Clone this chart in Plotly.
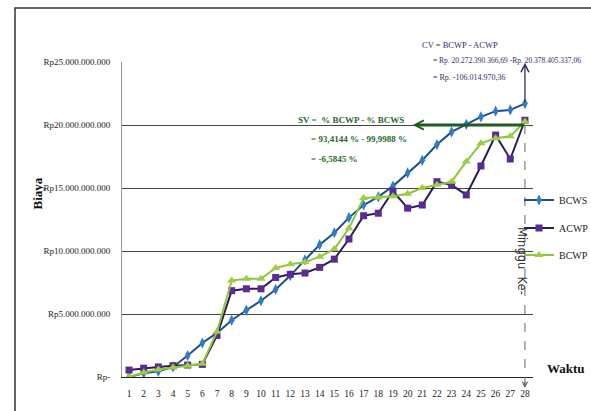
import plotly.graph_objects as go

weeks = list(range(1, 29))
bcws_bn = [0.0, 0.3, 0.45, 0.8, 1.7, 2.7, 3.5, 4.5, 5.3, 6.05, 6.95, 8.05, 9.3, 10.5,
           11.45, 12.65, 13.65, 14.3, 15.15, 16.2, 17.2, 18.45, 19.45, 20.05, 20.65,
           21.1, 21.2, 21.7]
acwp_bn = [0.55, 0.7, 0.8, 0.9, 0.95, 1.0, 3.3, 6.85, 7.0, 7.0, 7.9, 8.15, 8.25, 8.7,
           9.35, 10.95, 12.8, 13.0, 14.75, 13.4, 13.65, 15.5, 15.25, 14.45, 16.75,
           19.2, 17.3, 20.378]
bcwp_bn = [0.0, 0.35, 0.6, 0.75, 0.9, 1.05, 3.6, 7.65, 7.8, 7.8, 8.65, 8.95, 9.1, 9.55,
           10.15, 11.8, 14.2, 14.25, 14.35, 14.55, 15.0, 15.25, 15.5, 17.1, 18.55,
           18.95, 19.1, 20.272]
ytick_vals = [0, 5e9, 10e9, 15e9, 20e9, 25e9]
ytick_text = ["Rp-", "Rp5.000.000.000", "Rp10.000.000.000", "Rp15.000.000.000",
              "Rp20.000.000.000", "Rp25.000.000.000"]

B = 1e9
SERIF = "Liberation Serif, Times New Roman, serif"

fig = go.Figure()
fig.add_trace(go.Scatter(
    x=weeks, y=[v * B for v in bcws_bn], name="BCWS", mode="lines+markers",
    line=dict(color="#1b4f8f", width=2),
    marker=dict(symbol="diamond-tall", size=8, color="#2f7bc8",
                line=dict(width=0)), legend="legend"))
fig.add_trace(go.Scatter(
    x=weeks, y=[v * B for v in acwp_bn], name="ACWP", mode="lines+markers",
    line=dict(color="#2a1d55", width=2),
    marker=dict(symbol="square", size=7, color="#5a2a96",
                line=dict(width=0)), legend="legend2"))
fig.add_trace(go.Scatter(
    x=weeks, y=[v * B for v in bcwp_bn], name="BCWP", mode="lines+markers",
    line=dict(color="#8cc63e", width=2),
    marker=dict(symbol="triangle-up", size=8, color="#9ccf3f",
                line=dict(width=0)), legend="legend3"))

def px_x(px):
    return (px - 122) / 411

def px_y(py):
    return (377 - py) / 315

leg_common = dict(bgcolor="rgba(0,0,0,0)", font=dict(family=SERIF, size=10, color="#222"),
                  xanchor="left", yanchor="middle", borderwidth=0)

CVC = "#3a2a6a"
SVC = "#2a6a2a"

annotations = [
    dict(text="<b>Biaya</b>", x=px_x(28), y=px_y(194), xref="paper", yref="paper",
         showarrow=False, textangle=-90, font=dict(family=SERIF, size=13, color="#111")),
    dict(text="<b>Waktu</b>", x=px_x(545), y=px_y(378), xref="paper", yref="paper",
         xanchor="left", showarrow=False, font=dict(family=SERIF, size=13, color="#111")),
    dict(text="Minggu  Ke-", x=px_x(531), y=px_y(261), xref="paper", yref="paper",
         showarrow=False, textangle=90, font=dict(family="DejaVu Sans", size=11.5, color="#333")),
    dict(text="CV = BCWP - ACWP", x=px_x(420), y=px_y(38), xref="paper", yref="paper",
         xanchor="left", showarrow=False, font=dict(family=SERIF, size=8.5, color=CVC)),
    dict(text="= Rp. 20.272.390.366,69 -Rp. 20.378.405.337,06", x=px_x(431), y=px_y(54),
         xref="paper", yref="paper", xanchor="left", showarrow=False,
         font=dict(family=SERIF, size=7.5, color=CVC)),
    dict(text="= Rp. -106.014.970,36", x=px_x(431), y=px_y(71), xref="paper", yref="paper",
         xanchor="left", showarrow=False, font=dict(family=SERIF, size=8, color=CVC)),
    dict(text="<b>SV =  % BCWP - % BCWS</b>", x=px_x(296), y=px_y(113), xref="paper",
         yref="paper", xanchor="left", showarrow=False,
         font=dict(family=SERIF, size=9, color=SVC)),
    dict(text="<b>= 93,4144 % - 99,9988 %</b>", x=px_x(309), y=px_y(132), xref="paper",
         yref="paper", xanchor="left", showarrow=False,
         font=dict(family=SERIF, size=9, color=SVC)),
    dict(text="<b>= -6,5845 %</b>", x=px_x(309), y=px_y(152), xref="paper",
         yref="paper", xanchor="left", showarrow=False,
         font=dict(family=SERIF, size=9, color=SVC)),
    # green arrow pointing left along 20B
    dict(x=20.35, y=20e9, xref="x", yref="y", ax=28, ay=20e9, axref="x", ayref="y",
         text="", showarrow=True, arrowhead=5, arrowsize=0.6, arrowwidth=3,
         arrowcolor="#1d5e1d"),
    # purple arrow up from BCWS point
    dict(x=28, y=24.95e9, xref="x", yref="y", ax=28, ay=bcws_bn[-1] * B, axref="x",
         ayref="y", text="", showarrow=True, arrowhead=5, arrowsize=1.2, arrowwidth=1.3,
         arrowcolor=CVC),
    # small v at bottom of dashed line
    dict(x=28, y=px_y(388), xref="x", yref="paper", ax=0, ay=-8, text="",
         showarrow=True, arrowhead=5, arrowsize=1, arrowwidth=1, arrowcolor="#555"),
]

shapes = [
    dict(type="path", xref="paper", yref="paper",
         path=f"M {px_x(15)},{px_y(420)} L {px_x(15)},{px_y(8)} L {px_x(600)},{px_y(8)}",
         line=dict(color="#333", width=1.5)),
    dict(type="line", xref="x", yref="paper", x0=28, x1=28, y0=px_y(386), y1=px_y(125),
         line=dict(color="#666", width=1, dash="dash")),
]

fig.update_layout(
    width=591, height=411,
    margin=dict(l=122, r=58, t=62, b=34, autoexpand=False),
    paper_bgcolor="white", plot_bgcolor="white",
    showlegend=True,
    legend=dict(x=px_x(519), y=px_y(200), **leg_common),
    legend2=dict(x=px_x(519), y=px_y(228), **leg_common),
    legend3=dict(x=px_x(519), y=px_y(255), **leg_common),
    xaxis=dict(range=[0.52, 28.55], tickmode="array", tickvals=weeks,
               ticktext=[str(w) for w in weeks], showgrid=False, zeroline=False,
               showline=True, linecolor="#222", linewidth=1, ticks="",
               ticklabelstandoff=8,
               tickfont=dict(family=SERIF, size=9.5, color="#222")),
    yaxis=dict(range=[0, 25e9], tickmode="array", tickvals=ytick_vals, ticktext=ytick_text,
               showgrid=True, gridcolor="#444", gridwidth=1, zeroline=False,
               showline=True, linecolor="#999", linewidth=1, ticks="",
               ticklabelstandoff=9,
               tickfont=dict(family=SERIF, size=9, color="#222")),
    annotations=annotations,
    shapes=shapes,
)

fig.write_html("out.html")
